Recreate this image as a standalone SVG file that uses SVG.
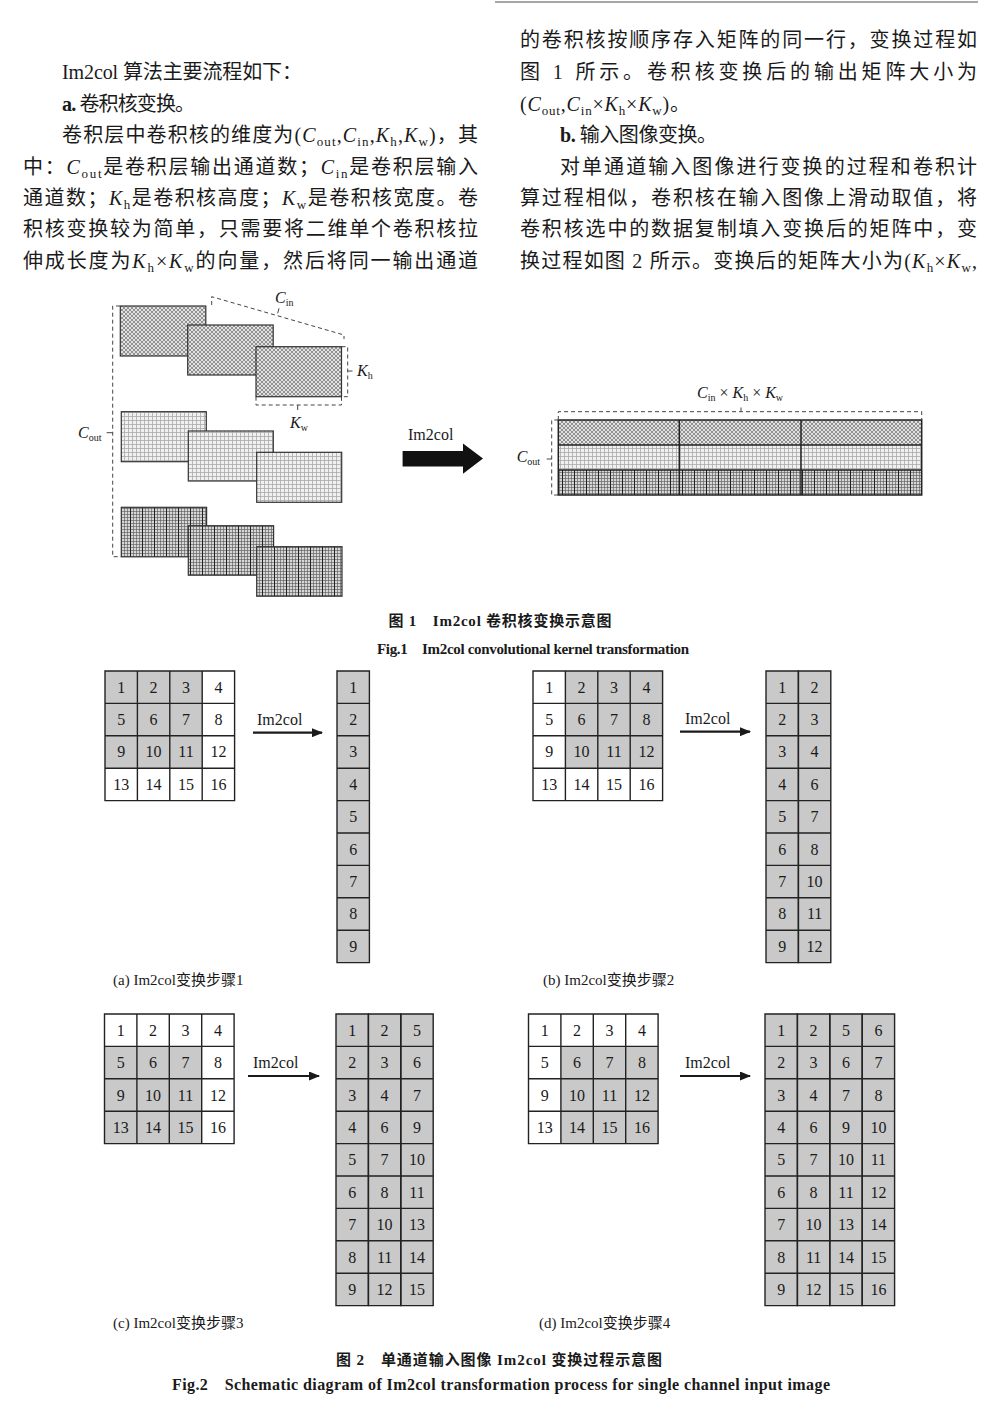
<svg xmlns="http://www.w3.org/2000/svg" xmlns:xlink="http://www.w3.org/1999/xlink" width="1000" height="1414" viewBox="0 0 1000 1414">
<style>
.t{font-family:"Liberation Serif","Noto Sans CJK SC",serif;font-size:20px;fill:#1a1a1a}
.i{font-style:italic}
.s{font-size:13px}
.f{font-family:"Liberation Serif","Noto Sans CJK SC",serif;font-size:16px;fill:#1a1a1a}
.fs{font-size:10px}
.sc{font-family:"Liberation Serif","Noto Sans CJK SC",serif;font-size:15px;fill:#1a1a1a}
.cap{font-family:"Liberation Serif","Noto Sans CJK SC",serif;font-size:15px;font-weight:bold;fill:#1a1a1a}
.cap2{font-size:16px}
.n{font-family:"Liberation Serif",serif;font-size:16px;fill:#1a1a1a;text-anchor:middle}
.b{font-weight:bold}
.grid{fill:none;stroke:#222;stroke-width:1.4}
.gray{fill:#c9c9c9}
.dash{fill:none;stroke:#444;stroke-width:1;stroke-dasharray:4 3}
.tick{fill:none;stroke:#444;stroke-width:1}
.kr{stroke:#333;stroke-width:1.2}
.arr{stroke:#1a1a1a;stroke-width:2.2;fill:none;marker-end:url(#ah)}
</style>
<defs>
<pattern id="pA" width="4" height="4" patternUnits="userSpaceOnUse"><rect width="4" height="4" fill="#e2e2e2"/><path d="M0,0L4,4M4,0L0,4" stroke="#5a5a5a" stroke-width="0.6"/></pattern>
<pattern id="pB" width="4" height="4" patternUnits="userSpaceOnUse"><rect width="4" height="4" fill="#f0f0f0"/><path d="M0,0.5H4M0.5,0V4" stroke="#aaaaaa" stroke-width="0.8"/></pattern>
<pattern id="pC" width="12" height="12" patternUnits="userSpaceOnUse"><rect width="12" height="12" fill="#d6d6d6"/><path d="M0,1.5H12M0,4.5H12M0,7.5H12M0,10.5H12M1.5,0V12M4.5,0V12M7.5,0V12" stroke="#555" stroke-width="0.6"/><path d="M10.5,0V12" stroke="#222" stroke-width="1"/></pattern>
<marker id="ah" markerWidth="11" markerHeight="9" refX="10" refY="4.5" orient="auto" markerUnits="userSpaceOnUse"><path d="M0,0L11,4.5L0,9Z" fill="#1a1a1a"/></marker>
<path id="g4" d="M0,0H129.6V129.6H0Z M32.4,0V129.6 M64.8,0V129.6 M97.2,0V129.6 M0,32.4H129.6 M0,64.8H129.6 M0,97.2H129.6"/>
<path id="c1" d="M0,0H32.4V291.6H0Z M0,32.4H32.4 M0,64.8H32.4 M0,97.2H32.4 M0,129.6H32.4 M0,162H32.4 M0,194.4H32.4 M0,226.8H32.4 M0,259.2H32.4"/>
</defs>
<rect width="1000" height="1414" fill="#ffffff"/>

<!-- header rule -->
<line x1="495" y1="2" x2="978" y2="2" stroke="#888" stroke-width="1.5"/>

<!-- body text left column -->
<g id="text-left" class="t">
<text x="62" y="79.3" textLength="240" lengthAdjust="spacing">Im2col 算法主要流程如下：</text>
<text x="62" y="110.7" textLength="133" lengthAdjust="spacing"><tspan class="b">a.</tspan> 卷积核变换。</text>
<text x="62" y="142.1" textLength="416" lengthAdjust="spacing">卷积层中卷积核的维度为(<tspan class="i">C</tspan><tspan class="s" dy="4">out</tspan><tspan dy="-4">,</tspan><tspan class="i">C</tspan><tspan class="s" dy="4">in</tspan><tspan dy="-4">,</tspan><tspan class="i">K</tspan><tspan class="s" dy="4">h</tspan><tspan dy="-4">,</tspan><tspan class="i">K</tspan><tspan class="s" dy="4">w</tspan><tspan dy="-4">)，其</tspan></text>
<text x="23" y="173.5" textLength="455" lengthAdjust="spacing">中：<tspan class="i">C</tspan><tspan class="s" dy="4">out</tspan><tspan dy="-4">是卷积层输出通道数；</tspan><tspan class="i">C</tspan><tspan class="s" dy="4">in</tspan><tspan dy="-4">是卷积层输入</tspan></text>
<text x="23" y="204.9" textLength="455" lengthAdjust="spacing">通道数；<tspan class="i">K</tspan><tspan class="s" dy="4">h</tspan><tspan dy="-4">是卷积核高度；</tspan><tspan class="i">K</tspan><tspan class="s" dy="4">w</tspan><tspan dy="-4">是卷积核宽度。卷</tspan></text>
<text x="23" y="236.3" textLength="455" lengthAdjust="spacing">积核变换较为简单，只需要将二维单个卷积核拉</text>
<text x="23" y="267.7" textLength="455" lengthAdjust="spacing">伸成长度为<tspan class="i">K</tspan><tspan class="s" dy="4">h</tspan><tspan dy="-4">×</tspan><tspan class="i">K</tspan><tspan class="s" dy="4">w</tspan><tspan dy="-4">的向量，然后将同一输出通道</tspan></text>
</g>

<!-- body text right column -->
<g id="text-right" class="t">
<text x="520" y="46.5" textLength="457" lengthAdjust="spacing">的卷积核按顺序存入矩阵的同一行，变换过程如</text>
<text x="520" y="79.3" textLength="457" lengthAdjust="spacing">图 1 所示。卷积核变换后的输出矩阵大小为</text>
<text x="520" y="110.7" textLength="170" lengthAdjust="spacing">(<tspan class="i">C</tspan><tspan class="s" dy="4">out</tspan><tspan dy="-4">,</tspan><tspan class="i">C</tspan><tspan class="s" dy="4">in</tspan><tspan dy="-4">×</tspan><tspan class="i">K</tspan><tspan class="s" dy="4">h</tspan><tspan dy="-4">×</tspan><tspan class="i">K</tspan><tspan class="s" dy="4">w</tspan><tspan dy="-4">)。</tspan></text>
<text x="560" y="142.1" textLength="157" lengthAdjust="spacing"><tspan class="b">b.</tspan> 输入图像变换。</text>
<text x="560" y="173.5" textLength="417" lengthAdjust="spacing">对单通道输入图像进行变换的过程和卷积计</text>
<text x="520" y="204.9" textLength="457" lengthAdjust="spacing">算过程相似，卷积核在输入图像上滑动取值，将</text>
<text x="520" y="236.3" textLength="457" lengthAdjust="spacing">卷积核选中的数据复制填入变换后的矩阵中，变</text>
<text x="520" y="267.7" textLength="457" lengthAdjust="spacing">换过程如图 2 所示。变换后的矩阵大小为(<tspan class="i">K</tspan><tspan class="s" dy="4">h</tspan><tspan dy="-4">×</tspan><tspan class="i">K</tspan><tspan class="s" dy="4">w</tspan><tspan dy="-4">,</tspan></text>
</g>

<!-- Figure 1: kernels -->
<g id="fig1-kernels">
<g id="k-group1">
<rect x="120.3" y="306" width="85.5" height="50" fill="url(#pA)" class="kr"/>
<rect x="187.7" y="325" width="85.5" height="50" fill="url(#pA)" class="kr"/>
<rect x="256" y="346.7" width="85.5" height="50" fill="url(#pA)" class="kr"/>
</g>
<g id="k-group2">
<rect x="121.3" y="411.7" width="85" height="50" fill="url(#pB)" class="kr"/>
<rect x="188.3" y="431" width="85" height="50" fill="url(#pB)" class="kr"/>
<rect x="256.7" y="452.3" width="85" height="50" fill="url(#pB)" class="kr"/>
</g>
<g id="k-group3">
<rect x="121.3" y="507.3" width="85.3" height="49.5" fill="url(#pC)" class="kr"/>
<rect x="188.3" y="525.7" width="85.3" height="49.5" fill="url(#pC)" class="kr"/>
<rect x="256.7" y="546.7" width="85.3" height="49.5" fill="url(#pC)" class="kr"/>
</g>
</g>

<!-- Figure 1 dimension brackets -->
<g id="fig1-brackets">
<path class="dash" d="M120,306H112.7V556.7H121"/>
<path class="tick" d="M112.7,432.7H106.7"/>
<text class="f" x="78" y="437.5"><tspan class="i">C</tspan><tspan class="fs" dy="3">out</tspan></text>

<path class="dash" d="M211.7,305V296.7L344,335V339"/>
<path class="tick" d="M279,308.3L277.7,313.3"/>
<text class="f" x="275" y="303"><tspan class="i">C</tspan><tspan class="fs" dy="3">in</tspan></text>

<path class="dash" d="M341.5,346.7H347.7V396.7H341.5"/>
<path class="tick" d="M347.7,371H352.5"/>
<text class="f" x="357" y="376"><tspan class="i">K</tspan><tspan class="fs" dy="3">h</tspan></text>

<path class="dash" d="M256,396.7V405H341.5V396.7"/>
<path class="tick" d="M297.7,405V410"/>
<text class="f" x="290" y="428"><tspan class="i">K</tspan><tspan class="fs" dy="3">w</tspan></text>
</g>

<!-- Figure 1 transformation arrow -->
<g id="fig1-arrow">
<polygon points="402.6,451 463,451 463,443.6 483,458.6 463,473.7 463,466.5 402.6,466.5" fill="#111"/>
<text class="f" x="408" y="440">Im2col</text>
</g>

<!-- Figure 1 output matrix -->
<g id="fig1-matrix">
<rect x="558.3" y="420" width="363.4" height="25" fill="url(#pA)"/>
<rect x="558.3" y="445" width="363.4" height="25" fill="url(#pB)"/>
<rect x="558.3" y="470" width="363.4" height="25" fill="url(#pC)"/>
<path d="M558.3,420H921.7V495H558.3Z M558.3,445H921.7 M558.3,470H921.7 M679.3,420V495 M801,420V495" fill="none" stroke="#222" stroke-width="1.5"/>
<path class="dash" d="M558.3,420V411.7H921.7V420"/>
<path class="tick" d="M741,411.7V407.5"/>
<text class="f" x="697" y="398"><tspan class="i">C</tspan><tspan class="fs" dy="3">in</tspan><tspan dy="-3"> × </tspan><tspan class="i">K</tspan><tspan class="fs" dy="3">h</tspan><tspan dy="-3"> × </tspan><tspan class="i">K</tspan><tspan class="fs" dy="3">w</tspan></text>
<path class="dash" d="M558.3,420H551.7V495H558.3"/>
<path class="tick" d="M551.7,459H546.7"/>
<text class="f" x="516.7" y="461.7"><tspan class="i">C</tspan><tspan class="fs" dy="3">out</tspan></text>
</g>

<!-- Figure 1 caption -->
<g id="fig1-caption">
<text class="cap" x="388.5" y="625.7" textLength="223" lengthAdjust="spacing">图 1　Im2col 卷积核变换示意图</text>
<text class="cap" x="377" y="654.3" textLength="312" lengthAdjust="spacing">Fig.1　Im2col convolutional kernel transformation</text>
</g>

<!-- Figure 2 (a) -->
<g id="fig2a">
<rect class="gray" x="105" y="671" width="97.2" height="97.2"/>
<use xlink:href="#g4" class="grid" x="105" y="671"/>
<g class="n">
<text x="121.2" y="692.5">1</text><text x="153.6" y="692.5">2</text><text x="186" y="692.5">3</text><text x="218.4" y="692.5">4</text>
<text x="121.2" y="724.9">5</text><text x="153.6" y="724.9">6</text><text x="186" y="724.9">7</text><text x="218.4" y="724.9">8</text>
<text x="121.2" y="757.3">9</text><text x="153.6" y="757.3">10</text><text x="186" y="757.3">11</text><text x="218.4" y="757.3">12</text>
<text x="121.2" y="789.7">13</text><text x="153.6" y="789.7">14</text><text x="186" y="789.7">15</text><text x="218.4" y="789.7">16</text>
</g>
<rect class="gray" x="337" y="671" width="32.4" height="291.6"/>
<use xlink:href="#c1" class="grid" x="337" y="671"/>
<g class="n">
<text x="353.2" y="692.5">1</text><text x="353.2" y="724.9">2</text><text x="353.2" y="757.3">3</text><text x="353.2" y="789.7">4</text><text x="353.2" y="822.1">5</text><text x="353.2" y="854.5">6</text><text x="353.2" y="886.9">7</text><text x="353.2" y="919.3">8</text><text x="353.2" y="951.7">9</text>
</g>
<text class="sc" x="113" y="985">(a) Im2col变换步骤1</text>
</g>

<!-- Figure 2 (b) -->
<g id="fig2b">
<rect class="gray" x="565.4" y="671" width="97.2" height="97.2"/>
<use xlink:href="#g4" class="grid" x="533" y="671"/>
<g class="n">
<text x="549.2" y="692.5">1</text><text x="581.6" y="692.5">2</text><text x="614" y="692.5">3</text><text x="646.4" y="692.5">4</text>
<text x="549.2" y="724.9">5</text><text x="581.6" y="724.9">6</text><text x="614" y="724.9">7</text><text x="646.4" y="724.9">8</text>
<text x="549.2" y="757.3">9</text><text x="581.6" y="757.3">10</text><text x="614" y="757.3">11</text><text x="646.4" y="757.3">12</text>
<text x="549.2" y="789.7">13</text><text x="581.6" y="789.7">14</text><text x="614" y="789.7">15</text><text x="646.4" y="789.7">16</text>
</g>
<rect class="gray" x="766" y="671" width="64.8" height="291.6"/>
<use xlink:href="#c1" class="grid" x="766" y="671"/>
<use xlink:href="#c1" class="grid" x="798.4" y="671"/>
<g class="n">
<text x="782.2" y="692.5">1</text><text x="782.2" y="724.9">2</text><text x="782.2" y="757.3">3</text><text x="782.2" y="789.7">4</text><text x="782.2" y="822.1">5</text><text x="782.2" y="854.5">6</text><text x="782.2" y="886.9">7</text><text x="782.2" y="919.3">8</text><text x="782.2" y="951.7">9</text>
<text x="814.6" y="692.5">2</text><text x="814.6" y="724.9">3</text><text x="814.6" y="757.3">4</text><text x="814.6" y="789.7">6</text><text x="814.6" y="822.1">7</text><text x="814.6" y="854.5">8</text><text x="814.6" y="886.9">10</text><text x="814.6" y="919.3">11</text><text x="814.6" y="951.7">12</text>
</g>
<text class="sc" x="543" y="985">(b) Im2col变换步骤2</text>
</g>

<!-- Figure 2 (c) -->
<g id="fig2c">
<rect class="gray" x="104.5" y="1046.4" width="97.2" height="97.2"/>
<use xlink:href="#g4" class="grid" x="104.5" y="1014"/>
<g class="n">
<text x="120.7" y="1035.7">1</text><text x="153.1" y="1035.7">2</text><text x="185.5" y="1035.7">3</text><text x="217.9" y="1035.7">4</text>
<text x="120.7" y="1068.1">5</text><text x="153.1" y="1068.1">6</text><text x="185.5" y="1068.1">7</text><text x="217.9" y="1068.1">8</text>
<text x="120.7" y="1100.5">9</text><text x="153.1" y="1100.5">10</text><text x="185.5" y="1100.5">11</text><text x="217.9" y="1100.5">12</text>
<text x="120.7" y="1132.9">13</text><text x="153.1" y="1132.9">14</text><text x="185.5" y="1132.9">15</text><text x="217.9" y="1132.9">16</text>
</g>
<rect class="gray" x="336" y="1014" width="97.2" height="291.6"/>
<use xlink:href="#c1" class="grid" x="336" y="1014"/>
<use xlink:href="#c1" class="grid" x="368.4" y="1014"/>
<use xlink:href="#c1" class="grid" x="400.8" y="1014"/>
<g class="n">
<text x="352.2" y="1035.7">1</text><text x="352.2" y="1068.1">2</text><text x="352.2" y="1100.5">3</text><text x="352.2" y="1132.9">4</text><text x="352.2" y="1165.3">5</text><text x="352.2" y="1197.7">6</text><text x="352.2" y="1230.1">7</text><text x="352.2" y="1262.5">8</text><text x="352.2" y="1294.9">9</text>
<text x="384.6" y="1035.7">2</text><text x="384.6" y="1068.1">3</text><text x="384.6" y="1100.5">4</text><text x="384.6" y="1132.9">6</text><text x="384.6" y="1165.3">7</text><text x="384.6" y="1197.7">8</text><text x="384.6" y="1230.1">10</text><text x="384.6" y="1262.5">11</text><text x="384.6" y="1294.9">12</text>
<text x="417" y="1035.7">5</text><text x="417" y="1068.1">6</text><text x="417" y="1100.5">7</text><text x="417" y="1132.9">9</text><text x="417" y="1165.3">10</text><text x="417" y="1197.7">11</text><text x="417" y="1230.1">13</text><text x="417" y="1262.5">14</text><text x="417" y="1294.9">15</text>
</g>
<text class="sc" x="113" y="1328">(c) Im2col变换步骤3</text>
</g>

<!-- Figure 2 (d) -->
<g id="fig2d">
<rect class="gray" x="560.9" y="1046.4" width="97.2" height="97.2"/>
<use xlink:href="#g4" class="grid" x="528.5" y="1014"/>
<g class="n">
<text x="544.7" y="1035.7">1</text><text x="577.1" y="1035.7">2</text><text x="609.5" y="1035.7">3</text><text x="641.9" y="1035.7">4</text>
<text x="544.7" y="1068.1">5</text><text x="577.1" y="1068.1">6</text><text x="609.5" y="1068.1">7</text><text x="641.9" y="1068.1">8</text>
<text x="544.7" y="1100.5">9</text><text x="577.1" y="1100.5">10</text><text x="609.5" y="1100.5">11</text><text x="641.9" y="1100.5">12</text>
<text x="544.7" y="1132.9">13</text><text x="577.1" y="1132.9">14</text><text x="609.5" y="1132.9">15</text><text x="641.9" y="1132.9">16</text>
</g>
<rect class="gray" x="765" y="1014" width="129.6" height="291.6"/>
<use xlink:href="#c1" class="grid" x="765" y="1014"/>
<use xlink:href="#c1" class="grid" x="797.4" y="1014"/>
<use xlink:href="#c1" class="grid" x="829.8" y="1014"/>
<use xlink:href="#c1" class="grid" x="862.2" y="1014"/>
<g class="n">
<text x="781.2" y="1035.7">1</text><text x="781.2" y="1068.1">2</text><text x="781.2" y="1100.5">3</text><text x="781.2" y="1132.9">4</text><text x="781.2" y="1165.3">5</text><text x="781.2" y="1197.7">6</text><text x="781.2" y="1230.1">7</text><text x="781.2" y="1262.5">8</text><text x="781.2" y="1294.9">9</text>
<text x="813.6" y="1035.7">2</text><text x="813.6" y="1068.1">3</text><text x="813.6" y="1100.5">4</text><text x="813.6" y="1132.9">6</text><text x="813.6" y="1165.3">7</text><text x="813.6" y="1197.7">8</text><text x="813.6" y="1230.1">10</text><text x="813.6" y="1262.5">11</text><text x="813.6" y="1294.9">12</text>
<text x="846" y="1035.7">5</text><text x="846" y="1068.1">6</text><text x="846" y="1100.5">7</text><text x="846" y="1132.9">9</text><text x="846" y="1165.3">10</text><text x="846" y="1197.7">11</text><text x="846" y="1230.1">13</text><text x="846" y="1262.5">14</text><text x="846" y="1294.9">15</text>
<text x="878.4" y="1035.7">6</text><text x="878.4" y="1068.1">7</text><text x="878.4" y="1100.5">8</text><text x="878.4" y="1132.9">10</text><text x="878.4" y="1165.3">11</text><text x="878.4" y="1197.7">12</text><text x="878.4" y="1230.1">14</text><text x="878.4" y="1262.5">15</text><text x="878.4" y="1294.9">16</text>
</g>
<text class="sc" x="539" y="1328">(d) Im2col变换步骤4</text>
</g>

<!-- Figure 2 connectors -->
<g id="connectors">
<line class="arr" x1="253" y1="732.7" x2="322" y2="732.7"/>
<line class="arr" x1="680" y1="731.7" x2="750" y2="731.7"/>
<line class="arr" x1="248" y1="1076" x2="319" y2="1076"/>
<line class="arr" x1="680" y1="1076" x2="750" y2="1076"/>
</g>
<g id="connector-labels" class="f">
<text x="257" y="725">Im2col</text>
<text x="685" y="724">Im2col</text>
<text x="253" y="1068">Im2col</text>
<text x="685" y="1068">Im2col</text>
</g>

<!-- Figure 2 caption -->
<g id="fig2-caption">
<text class="cap" x="336" y="1365" textLength="326" lengthAdjust="spacing">图 2　单通道输入图像 Im2col 变换过程示意图</text>
<text class="cap cap2" x="172" y="1390" textLength="658" lengthAdjust="spacing">Fig.2　Schematic diagram of Im2col transformation process for single channel input image</text>
</g>
</svg>
